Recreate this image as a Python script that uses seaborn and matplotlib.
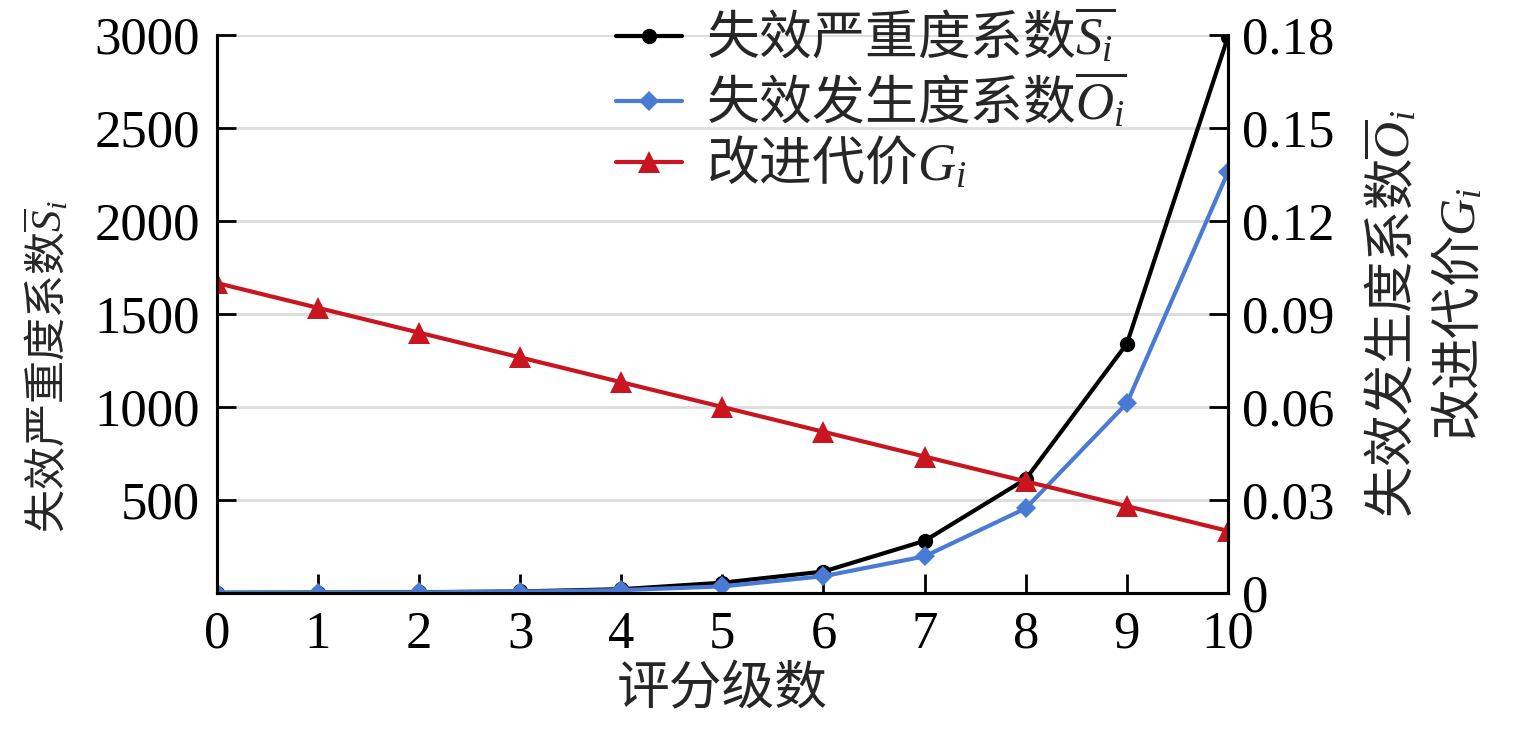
import matplotlib as mpl
import matplotlib.pyplot as plt
import seaborn as sns

# data
levels = [0, 1, 2, 3, 4, 5, 6, 7, 8, 9, 10]
severity = [1, 2, 4, 8, 20, 55, 115, 280, 612, 1340, 2990]
occurrence = [0.00005, 0.0001, 0.0002, 0.0004, 0.0009, 0.0021, 0.0054, 0.0118, 0.0273, 0.0612, 0.1358]
cost = [0.100, 0.092, 0.084, 0.076, 0.068, 0.060, 0.052, 0.044, 0.036, 0.028, 0.020]

left_ticks = [500, 1000, 1500, 2000, 2500, 3000]
right_ticks = [0, 0.03, 0.06, 0.09, 0.12, 0.15, 0.18]
right_ticklabels = ['0', '0.03', '0.06', '0.09', '0.12', '0.15', '0.18']

sns.set_style('ticks')
plt.rcParams['font.family'] = ['Liberation Serif', 'Noto Sans CJK SC']
# latin symbols in the labels drawn in a Times-like italic
plt.rcParams['mathtext.fontset'] = 'custom'
plt.rcParams['mathtext.rm'] = 'Liberation Serif'
plt.rcParams['mathtext.it'] = 'Liberation Serif:italic'
plt.rcParams['axes.unicode_minus'] = False

CJK = 'Noto Sans CJK SC'
FS_TICK = 38
c_black = '#000000'
c_blue = '#4A7BD4'
c_red = '#C8151F'

fig, ax = plt.subplots(figsize=(15.16, 7.32), dpi=100)
fig.subplots_adjust(left=0.143, right=0.81, top=0.952, bottom=0.19)
ax2 = ax.twinx()

sns.lineplot(x=levels, y=severity, ax=ax, color=c_black, marker='o', markersize=11,
             markeredgewidth=0, linewidth=3, label=r'失效严重度系数$\overline{S_i}$', legend=False)
sns.lineplot(x=levels, y=occurrence, ax=ax2, color=c_blue, marker='D', markersize=10,
             markeredgewidth=0, linewidth=3, label=r'失效发生度系数$\overline{O_i}$', legend=False)
sns.lineplot(x=levels, y=cost, ax=ax2, color=c_red, marker='^', markersize=16,
             markeredgewidth=0, linewidth=3, label=r'改进代价$G_i$', legend=False)

ax.set_xlim(0, 10)
ax.set_ylim(0, 3000)
ax2.set_ylim(0, 0.18)
ax.set_xticks(levels)
ax.set_yticks(left_ticks)
ax2.set_yticks(right_ticks)
ax2.set_yticklabels(right_ticklabels)

ax.yaxis.grid(True, color='#dcdcdc', linewidth=2)
ax.set_axisbelow(True)

for a in (ax, ax2):
    a.spines['top'].set_visible(False)
    for s in ('left', 'right', 'bottom'):
        a.spines[s].set_linewidth(2.2)
        a.spines[s].set_color('black')
    a.tick_params(direction='in', length=14, width=2, labelsize=FS_TICK, colors='black')
ax.tick_params(axis='x', pad=13)
ax.tick_params(axis='y', pad=12)
ax2.tick_params(axis='y', pad=10)

ax.set_xlabel('评分级数', fontsize=38, family=CJK, labelpad=2)
ax.set_ylabel(r'失效严重度系数$\overline{S}_i$', fontsize=31, family=CJK)
ax.yaxis.set_label_coords(-0.143, 0.405)
ax2.set_ylabel('失效发生度系数$\\overline{O}_i$\n改进代价$G_i$', fontsize=37, family=CJK,
               labelpad=22, multialignment='center', linespacing=1.25)

handles = ax.get_lines()[:1] + ax2.get_lines()[:2]
fig.legend(handles=handles, labels=[h.get_label() for h in handles], loc='upper left',
           bbox_to_anchor=(0.403, 0.998), frameon=False, prop={'family': CJK, 'size': 38},
           handlelength=1.25, handletextpad=0.45, labelspacing=0.1, borderaxespad=0,
           borderpad=0.1)

fig.savefig('out.png', dpi=100)
